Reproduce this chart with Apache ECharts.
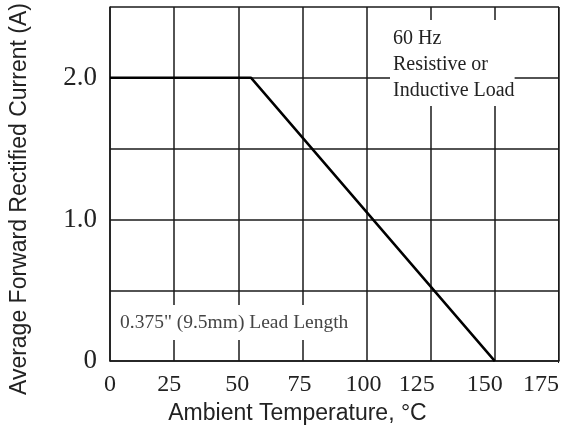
<!DOCTYPE html>
<html>
<head>
<meta charset="utf-8">
<script src="https://cdn.jsdelivr.net/npm/echarts@6/dist/echarts.min.js"></script>
<style>html,body{margin:0;padding:0;background:#fff;}#c{width:566px;height:430px;}</style>
</head>
<body>
<div id="c"></div>
<script>
var temperature = [0, 55, 150];
var current = [2.0, 2.0, 0];
var xTicks = [0, 25, 50, 75, 100, 125, 150, 175];
var yTickLabels = {0: '0', 1: '1.0', 2: '2.0'};
var note1 = ['60 Hz', 'Resistive or', 'Inductive Load'];
var note2 = '0.375" (9.5mm) Lead Length';

// label nudges (px to the left) — layout only
var xLabelNudge = {25: 5, 50: 1, 75: 3, 100: 3, 125: 14, 150: 10};

var chart = echarts.init(document.getElementById('c'), null, {renderer: 'canvas'});
var serif = '"Liberation Serif", "DejaVu Serif", serif';
var sans = '"Liberation Sans", Arial, sans-serif';
var gridColor = '#1a1a1a';

var rich = {};
Object.keys(xLabelNudge).forEach(function (k) {
  rich['n' + k] = {fontFamily: serif, fontSize: 24, color: '#222', padding: [0, 2 * xLabelNudge[k], 0, 0]};
});

chart.setOption({
  animation: false,
  grid: {left: 103, right: 7, top: 7, bottom: 67, containLabel: false},
  xAxis: {
    type: 'value', min: 0, max: 175, interval: 25,
    name: 'Ambient Temperature, °C', nameLocation: 'middle', nameGap: 38,
    nameTextStyle: {fontFamily: sans, fontSize: 23, color: '#222', padding: [0, 74, 0, 0]},
    axisLine: {show: true, onZero: false, lineStyle: {color: gridColor, width: 1.5}},
    axisTick: {show: false},
    axisLabel: {fontFamily: serif, fontSize: 24, color: '#222', margin: 12, alignMaxLabel: 'right', rich: rich,
      formatter: function (v) {
        if (xTicks.indexOf(v) < 0) return '';
        return xLabelNudge[v] ? '{n' + v + '|' + v + '}' : String(v);
      }},
    splitLine: {show: true, lineStyle: {color: gridColor, width: 1.5}}
  },
  yAxis: {
    type: 'value', min: 0, max: 2.5, interval: 0.5,
    name: 'Average Forward Rectified Current (A)', nameLocation: 'middle', nameGap: 79,
    nameTextStyle: {fontFamily: sans, fontSize: 23, color: '#222', padding: [0, 30, 0, 0]},
    axisLine: {show: true, lineStyle: {color: gridColor, width: 1.5}},
    axisTick: {show: false},
    axisLabel: {fontFamily: serif, fontSize: 27, color: '#222', margin: 13,
      formatter: function (v) { var k = Math.round(v * 10) / 10; return yTickLabels.hasOwnProperty(k) && Math.abs(v - Math.round(v)) < 1e-6 ? yTickLabels[k] : ''; }},
    splitLine: {show: true, lineStyle: {color: gridColor, width: 1.5}}
  },
  series: [{
    type: 'line',
    data: temperature.map(function (t, i) { return [t, current[i]]; }),
    showSymbol: false, symbol: 'none',
    lineStyle: {color: '#000', width: 2.5},
    z: 5
  }],
  graphic: [
    {type: 'rect', right: 7, top: 7, shape: {width: 1, height: 356}, style: {fill: gridColor}, silent: true, z: 2},
    {type: 'text', left: 390, top: 20, z: 3,
      style: {text: note1.join('\n'), font: '20px ' + serif, fill: '#222', lineHeight: 26,
        backgroundColor: '#fff', padding: [6, 0, 2, 3]}},
    {type: 'text', left: 115, top: 305, z: 3,
      style: {text: note2, font: '19.5px ' + serif, fill: '#444', lineHeight: 24,
        backgroundColor: '#fff', padding: [6, 4, 5, 5]}}
  ]
});
</script>
</body>
</html>
